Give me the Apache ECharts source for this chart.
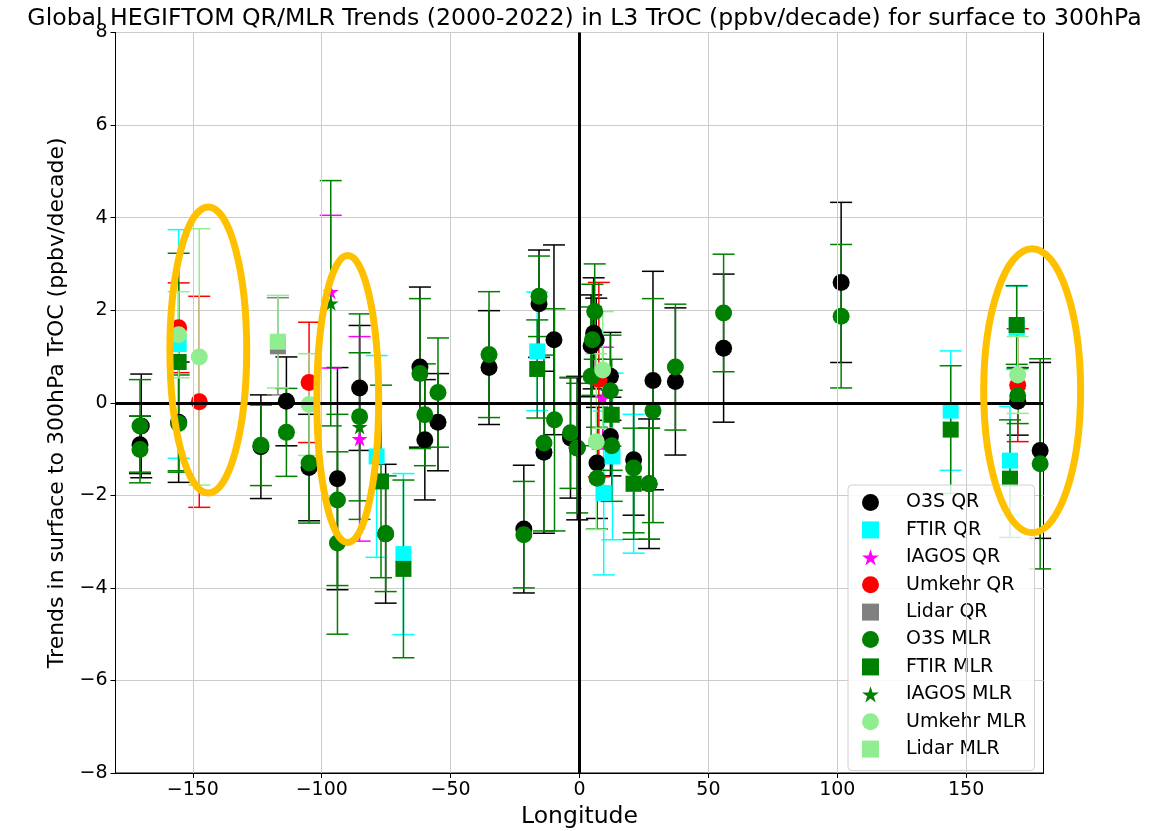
<!DOCTYPE html>
<html>
<head>
<meta charset="utf-8">
<title>Global HEGIFTOM QR/MLR Trends</title>
<script src="https://cdn.jsdelivr.net/npm/echarts@6/dist/echarts.min.js"></script>
<style>
  html, body { margin: 0; padding: 0; background: #fff; }
  #chart { width: 1163px; height: 831px; }
</style>
</head>
<body>
<div id="chart"></div>
<script>
// [longitude, trend, error] for every station, per instrument / method
const o3sQR = [
  [-170.5, -0.91, 0.62], [-170.0, -0.50, 1.12], [-155.5, -0.42, 1.30],
  [-123.6, -0.95, 1.12], [-113.7, 0.03, 0.96], [-104.9, -1.40, 1.15],
  [-93.9, -1.64, 2.40], [-85.3, 0.32, 1.35], [-75.2, -2.83, 1.50],
  [-61.9, 0.77, 1.73], [-60.0, -0.80, 1.30], [-54.9, -0.42, 1.05],
  [-35.1, 0.76, 1.23], [-21.6, -2.73, 1.38], [-15.7, 2.14, 1.16],
  [-13.8, -1.07, 1.75], [-9.9, 1.36, 2.05], [-3.5, -0.76, 1.30],
  [-0.9, -0.98, 1.55], [4.5, 1.23, 1.10], [5.5, 1.50, 1.20],
  [6.5, 1.36, 0.90], [6.8, -1.30, 1.20], [12.0, 0.57, 0.95],
  [12.0, -0.73, 0.85], [21.0, -1.23, 1.20], [27.0, -1.75, 1.40],
  [28.5, 0.48, 2.36], [37.2, 0.46, 1.59], [55.9, 1.18, 1.60],
  [101.5, 2.60, 1.73], [170.0, 0.03, 0.73], [178.7, -1.03, 1.90]
];
const ftirQR = [
  [-155.5, 1.27, 2.47], [-78.7, -1.16, 2.18], [-68.3, -3.27, 1.74],
  [-16.4, 1.11, 1.28], [9.4, -1.95, 1.77], [12.8, -1.16, 1.80],
  [21.0, -1.75, 1.50], [144.0, -0.17, 1.29], [167.0, -1.25, 1.17],
  [169.6, 1.62, 0.90]
];
const iagosQR = [[-96.5, 2.40, 1.65], [-85.3, -0.78, 2.21], [9.0, 0.10, 1.10]];
const umkehrQR = [
  [-155.5, 1.62, 0.97], [-147.5, 0.02, 2.28], [-104.9, 0.44, 1.30],
  [7.5, 0.50, 2.10], [170.0, 0.38, 1.22]
];
const lidarQR = [[-117.0, 1.22, 1.05]];
const o3sMLR = [
  [-170.5, -0.50, 1.00], [-170.5, -1.01, 0.72], [-155.5, -0.45, 1.05],
  [-123.6, -0.92, 0.87], [-113.7, -0.64, 0.95], [-104.9, -1.30, 1.30],
  [-93.9, -2.10, 1.85], [-93.9, -3.03, 1.97], [-85.3, -0.30, 2.22],
  [-75.2, -2.83, 1.25], [-61.9, 0.63, 1.62], [-60.0, -0.26, 1.10],
  [-54.9, 0.22, 1.18], [-35.1, 1.04, 1.36], [-21.6, -2.85, 1.15],
  [-15.7, 2.30, 0.87], [-13.8, -0.87, 1.90], [-9.7, -0.37, 2.40],
  [-3.5, -0.65, 1.20], [-0.9, -0.98, 1.40], [5.9, 1.97, 1.03],
  [5.0, 1.36, 1.20], [4.5, 0.57, 1.50], [6.8, -1.63, 1.10],
  [12.0, 0.26, 1.20], [12.5, -0.93, 1.20], [21.0, -1.41, 1.40],
  [27.0, -1.75, 1.20], [28.5, -0.17, 2.42], [37.2, 0.77, 1.36],
  [55.9, 1.94, 1.27], [101.5, 1.87, 1.55], [170.0, 0.15, 0.60],
  [178.7, -1.32, 2.27]
];
const ftirMLR = [
  [-155.5, 0.88, 2.35], [-77.0, -1.70, 2.08], [-68.3, -3.59, 1.92],
  [-16.4, 0.73, 1.06], [12.5, -0.26, 1.20], [21.0, -1.75, 1.20],
  [144.0, -0.58, 1.38], [167.0, -1.64, 1.27], [169.6, 1.68, 0.85]
];
const iagosMLR = [[-96.5, 2.15, 2.65], [-85.3, -0.52, 1.60], [27.0, -1.75, 1.20]];
const umkehrMLR = [
  [-155.5, 1.47, 0.93], [-147.5, 0.99, 2.77], [-104.9, -0.04, 1.10],
  [6.5, -0.84, 1.90], [9.0, 0.71, 1.26], [170.0, 0.60, 0.83]
];
const lidarMLR = [[-117.0, 1.32, 1.00]];

// highlighted regions: [lon, trend, half-width (deg), half-height (ppbv/decade)]
const highlightRings = [[-144.0, 1.14, 14.9, 3.09], [-89.9, 0.08, 12.0, 3.10], [175.6, 0.26, 18.8, 3.07]];

const xTicks = [-150, -100, -50, 0, 50, 100, 150];

const FONT = "DejaVu Sans";
const STAR = "path://M0,-10L2.245,-3.09L9.511,-3.09L3.633,1.18L5.878,8.09L0,3.82L-5.878,8.09L-3.633,1.18L-9.511,-3.09L-2.245,-3.09Z";

const groups = [
  { name: "O3S QR", data: o3sQR, color: "#000000", symbol: "circle" },
  { name: "FTIR QR", data: ftirQR, color: "#00ffff", symbol: "rect" },
  { name: "IAGOS QR", data: iagosQR, color: "#ff00ff", symbol: STAR },
  { name: "Umkehr QR", data: umkehrQR, color: "#ff0000", symbol: "circle" },
  { name: "Lidar QR", data: lidarQR, color: "#808080", symbol: "rect" },
  { name: "O3S MLR", data: o3sMLR, color: "#008000", symbol: "circle" },
  { name: "FTIR MLR", data: ftirMLR, color: "#008000", symbol: "rect" },
  { name: "IAGOS MLR", data: iagosMLR, color: "#008000", symbol: STAR },
  { name: "Umkehr MLR", data: umkehrMLR, color: "#90ee90", symbol: "circle" },
  { name: "Lidar MLR", data: lidarMLR, color: "#90ee90", symbol: "rect" },
];

const minus = (v) => String(v).replace("-", "\u2212");

function errorBars(g) {
  return {
    type: "custom",
    name: g.name + " err",
    data: g.data,
    encode: { x: 0, y: 1 },
    z: 2,
    clip: false,
    silent: true,
    renderItem: (params, api) => {
      const lon = api.value(0);
      const val = api.value(1);
      const err = api.value(2);
      const top = api.coord([lon, val + err]);
      const bot = api.coord([lon, val - err]);
      const cap = 11;
      const style = { stroke: g.color, lineWidth: 1.5 };
      return {
        type: "group",
        children: [
          { type: "line", shape: { x1: top[0], y1: top[1], x2: bot[0], y2: bot[1] }, style },
          { type: "line", shape: { x1: top[0] - cap, y1: top[1], x2: top[0] + cap, y2: top[1] }, style },
          { type: "line", shape: { x1: bot[0] - cap, y1: bot[1], x2: bot[0] + cap, y2: bot[1] }, style },
        ],
      };
    },
  };
}

function markers(g) {
  return {
    type: "scatter",
    name: g.name,
    data: g.data,
    symbol: g.symbol,
    symbolSize: g.symbol === "circle" ? 17 : 16,
    symbolKeepAspect: true,
    itemStyle: { color: g.color, opacity: 1 },
    z: 2,
  };
}

const series = [
  {
    // grid lines for x and the two zero lines
    type: "scatter",
    name: "guides",
    data: [],
    z: 1,
    silent: true,
    markLine: {
      silent: true,
      symbol: ["none", "none"],
      label: { show: false },
      animation: false,
      data: [
        ...xTicks.map((v) => ({ xAxis: v, lineStyle: { color: "#cccccc", width: 1, type: "solid" } })),
        { yAxis: 0, lineStyle: { color: "#000", width: 3, type: "solid" } },
        { xAxis: 0, lineStyle: { color: "#000", width: 3, type: "solid" } },
      ],
    },
  },
];
groups.forEach((g) => {
  series.push(errorBars(g));
  series.push(markers(g));
});
series.push({
  type: "custom",
  name: "highlight",
  data: highlightRings,
  encode: { x: 0, y: 1 },
  z: 10,
  clip: false,
  silent: true,
  renderItem: (params, api) => {
    const c = api.coord([api.value(0), api.value(1)]);
    const s = api.size([api.value(2), api.value(3)]);
    return {
      type: "ellipse",
      shape: { cx: c[0], cy: c[1], rx: s[0], ry: s[1] },
      style: { fill: "none", stroke: "#ffc000", lineWidth: 7 },
    };
  },
});

const myChart = echarts.init(document.getElementById("chart"));
myChart.setOption({
  animation: false,
  backgroundColor: "#fff",
  textStyle: { fontFamily: FONT },
  title: {
    text: "Global HEGIFTOM QR/MLR Trends (2000-2022) in L3 TrOC (ppbv/decade) for surface to 300hPa",
    left: 579.5,
    textAlign: "center",
    top: 2,
    textStyle: { fontFamily: FONT, fontSize: 23.6, fontWeight: "normal", color: "#000" },
  },
  grid: {
    left: 115.5,
    right: 119.5,
    top: 32.5,
    bottom: 58,
    outerBoundsMode: "none",
    show: true,
    borderColor: "#000",
    borderWidth: 1,
    backgroundColor: "transparent",
  },
  legend: {
    data: groups.map((g) => g.name),
    orient: "vertical",
    left: 848,
    top: 485,
    padding: [8, 8, 12, 14],
    itemWidth: 17,
    itemHeight: 17,
    itemGap: 8.4,
    backgroundColor: "rgba(255,255,255,0.85)",
    borderColor: "#d0d0d0",
    borderWidth: 1,
    borderRadius: 4,
    textStyle: { fontFamily: FONT, fontSize: 19, color: "#000", lineHeight: 17, padding: [0, 0, 0, 22] },
  },
  xAxis: {
    type: "value",
    min: -180,
    max: 180,
    name: "Longitude",
    nameLocation: "middle",
    nameGap: 30,
    nameTextStyle: { fontFamily: FONT, fontSize: 23.5, color: "#000" },
    axisLine: { show: true, onZero: false, lineStyle: { color: "#000", width: 1 } },
    axisTick: { show: true, customValues: xTicks, length: 5, lineStyle: { color: "#000" } },
    axisLabel: { customValues: xTicks, formatter: minus, fontFamily: FONT, fontSize: 19, color: "#000", margin: 8 },
    splitLine: { show: false },
  },
  yAxis: {
    type: "value",
    min: -8,
    max: 8,
    interval: 2,
    name: "Trends in surface to 300hPa TrOC (ppbv/decade)",
    nameLocation: "middle",
    nameGap: 47,
    nameTextStyle: { fontFamily: FONT, fontSize: 22, color: "#000" },
    axisLine: { show: true, onZero: false, lineStyle: { color: "#000", width: 1 } },
    axisTick: { show: true, length: 5, lineStyle: { color: "#000" } },
    axisLabel: { formatter: minus, fontFamily: FONT, fontSize: 19, color: "#000", margin: 8 },
    splitLine: { show: true, lineStyle: { color: "#cccccc", width: 1 } },
  },
  series: series,
});
</script>
</body>
</html>
